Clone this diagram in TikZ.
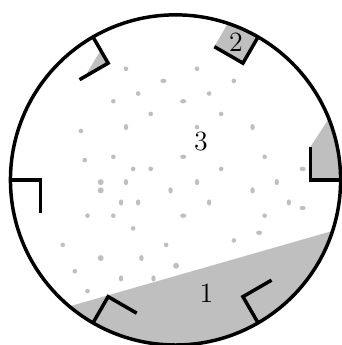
\documentclass[tikz,border=0pt]{standalone}
\usepackage{tikz}

\begin{document}
\begin{tikzpicture}[
  wall/.style={line width=1.8pt,line join=miter},
  room/.style={fill=black!25},
  spk/.style={fill=black!25},
  lbl/.style={font=\Large,inner sep=0pt}
]
\useasboundingbox (-3.19,-3.0) rectangle (3.01,3.27);
% shaded parts, cut to the disc
\begin{scope}
\clip (0,0) circle (3);
\fill[room] (230:3) arc[start angle=230,end angle=342,radius=3] -- cycle;
\fill[room] (60:2.45) -- (60:3.2) -- ++(150:0.6) -- ++(240:0.75) -- cycle;
\fill[room] (0:2.45) -- ++(90:0.6) -- ++(56.7:0.8) -- (3.3,1.27) -- (3.3,0) -- cycle;
\fill[room] (120:2.72) -- (120:2.45) -- ++(210:0.49) -- cycle;
\end{scope}
% specks
\foreach \x/\y in {-0.90/2.02,-0.68/1.57,-1.13/1.43,-0.45/1.20,-1.72/0.89,
  -1.65/0.36,-1.13/0.42,0.39/2.02,1.06/1.80,0.61/1.57,0.83/1.20,0.39/0.96,
  1.62/0.42,-0.77/0.20,-0.45/0.20,-1.60/-0.65,-1.13/-0.65,-0.77/-0.88,
  -2.05/-1.18,-0.17/-1.18,-1.83/-1.66,-1.60/-2.02,0.83/0.20,1.62/-0.65,1.06/-1.10}
  \fill[spk] (\x,\y) circle (0.042);
\foreach \x/\y in {-0.22/1.80,0.14/1.43,0.14/0.42,2.31/0.20,2.31/-0.51,0.14/-0.65,1.52/-0.96}
  \fill[spk] (\x,\y) ellipse (0.056 and 0.04);
\foreach \x/\y in {-0.90/0.96,1.40/0.96,-0.90/-0.04,-0.09/-0.19,-0.99/-0.41,
  -0.68/-0.41,-0.62/-1.42,-0.99/-1.79,-0.40/-1.79,0.39/-0.04,1.84/-0.04,
  1.40/-0.19,0.61/-0.41,2.06/-0.41}
  \fill[spk] (\x,\y) ellipse (0.04 and 0.056);
\foreach \x/\y in {-1.36/-0.04,-1.36/-0.19,-1.36/-1.42,0.01/-1.56}
  \fill[spk] (\x,\y) circle (0.054);
% labels
\node[lbl] (r3) at (0.46,0.69) {3};
\node[lbl] (r1) at (0.56,-2.06) {1};
\node[lbl] (r2) at (1.10,2.50) {2};
% walls
\draw[wall] (0,0) circle (3);
\foreach \a in {0,60,...,300}
  \draw[wall] (\a:3) -- (\a:2.45) -- ++(\a+90:0.6);
\end{tikzpicture}
\end{document}
